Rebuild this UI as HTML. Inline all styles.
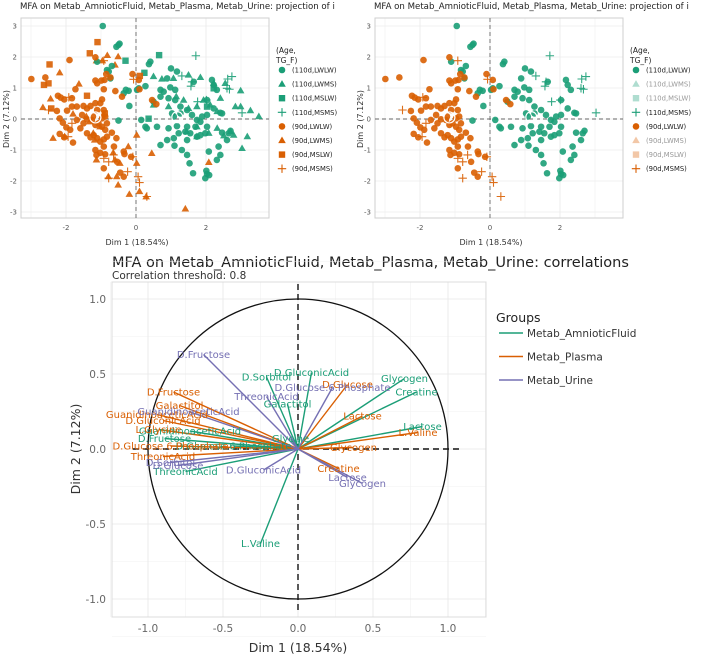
<!DOCTYPE html>
<html><head><meta charset="utf-8">
<style>
html,body{margin:0;padding:0;background:#fff;}
svg{display:block;font-family:"DejaVu Sans","Liberation Sans",sans-serif;}
</style></head>
<body>
<svg id="fig" width="708" height="657" viewBox="0 0 708 657" xmlns="http://www.w3.org/2000/svg">
</svg>
<script>
// ---------- Individuals data (Dim1, Dim2) ----------
const g_circ_x=[-0.95,-0.56,-0.5,-0.47,0.41,0.37,-0.29,-0.19,-0.5,0.03,0.08,0.27,0.15,0.27,0.31,0.6,0.7,0.89,1.1,1.31,1.46,1.53,1.63,2.01,2.03,1.98,2.09,2.08,2.36,2.41,2.31,2.7,2.65,2.46,2.41,2.22,2.03,1.89,1.74,1.6,1.46,1.27,1.12,0.93,0.79,0.7,0.98,1.12,1.0,1.17,0.89,0.7,0.5,1.84,2.03,1.98,1.84,1.55,1.41,1.46,1.7,1.74,1.46,1.22,1.08,0.93,1.17,2.17,2.22,2.31,1.65,1.08,1.03,1.27,2.03,2.46,2.6,-0.83,-0.69,-1.11,-0.73,-0.35,-0.21,-0.78];
const g_circ_y=[3.0,2.33,2.39,2.43,1.85,1.77,0.94,0.42,-0.05,0.94,0.99,1.06,-0.03,-0.25,-0.3,-0.25,-0.84,-0.68,-0.86,-1.0,-1.16,-1.43,-1.75,-1.67,-1.77,-1.91,-1.81,-1.05,-0.89,-1.16,-1.32,-0.38,-0.46,0.18,0.2,0.34,0.13,0.08,-0.03,0.13,0.29,0.4,0.61,0.67,0.88,0.94,1.02,0.94,1.63,1.53,1.31,0.72,0.56,-0.09,-0.25,-0.46,-0.52,-0.46,-0.41,-0.25,-0.25,-0.57,-0.68,-0.46,-0.62,-0.3,-0.23,1.26,1.1,0.94,1.2,0.08,0.18,0.18,0.61,-0.44,-0.68,1.58,1.71,1.85,1.31,0.83,0.91,1.53];
const g_plus_x=[1.71,1.31,1.6,1.57,2.01,1.76,2.6,2.67,2.62,2.74,3.03];
const g_plus_y=[2.04,1.39,1.2,1.06,0.61,0.56,0.99,0.96,1.29,1.37,0.2];
const g_tri_x=[0.5,0.74,1.07,1.5,1.84,2.22,2.55,2.99,2.84,3.27,3.51,3.18,3.03,2.79,2.7,2.51,2.32,2.12,1.93,1.74,1.5,1.36,1.15,0.93,1.74,1.45,1.74,2.08,2.32,2.41,2.99,0.5];
const g_tri_y=[1.37,1.29,1.31,1.42,1.34,1.15,1.15,0.91,0.4,0.27,0.08,-0.57,-0.95,-0.52,-0.41,-0.54,0.24,0.45,0.61,0.4,0.34,0.61,0.72,0.4,-0.25,-0.41,-0.57,-0.46,-0.3,0.67,0.4,0.45];
const g_sq_x=[0.66,-0.3,0.24,0.36,2.22,2.03];
const g_sq_y=[2.06,1.88,1.49,0.01,0.99,0.4];
const o_circ_x=[-2.99,-2.59,-1.9,-2.23,-2.15,-2.05,-1.83,-1.73,-1.83,-1.97,-2.26,-2.18,-2.09,-1.99,-2.18,-2.05,-1.8,-1.88,-1.69,-1.5,-1.4,-1.3,-1.16,-1.02,-0.97,-1.11,-0.92,-1.54,-1.69,-1.59,-1.5,-1.4,-1.26,-1.16,-1.07,-0.97,-0.88,-0.83,-1.4,-1.3,-1.21,-1.11,-1.02,-0.92,-0.83,-0.92,-1.16,-1.13,-1.02,-0.88,-0.92,-0.69,-0.56,-0.63,-0.54,-0.45,-0.35,-0.33,-0.35,-0.14,-0.4,-0.59,-0.92,-0.99,-0.9,-1.16,-1.11,-1.16,-0.85,-0.73,-0.1,0.08,0.1,0.46,0.58,-1.23,-0.97,-0.88];
const o_circ_y=[1.29,1.34,1.9,0.75,0.69,0.63,0.67,0.96,0.4,0.27,0.26,0.02,-0.12,-0.27,-0.48,-0.59,-0.76,-0.35,0.4,0.42,0.34,0.42,0.51,0.51,0.63,0.29,0.29,0.13,-0.03,-0.3,-0.14,-0.01,-0.03,-0.19,-0.14,-0.25,-0.35,-0.14,-0.46,-0.59,-0.52,-0.62,-0.73,-0.66,-0.57,-0.89,-1.0,-1.16,-1.09,-1.14,-1.59,-0.44,-0.62,-0.89,-1.38,-1.73,-1.86,-1.13,-1.05,-1.22,0.72,0.9,0.96,1.24,1.26,1.24,1.15,1.99,1.45,1.34,1.45,1.26,0.96,0.61,0.48,0.08,0.02,0.08];
const o_plus_x=[-2.5,-1.92,-1.94,-1.83,-0.92,-0.78,-0.64,-0.78,-0.24,0.06,0.1,0.31,-0.09,-0.07,-0.92];
const o_plus_y=[0.29,0.7,-0.57,-0.14,-1.27,-1.38,-1.16,-1.91,-1.7,-1.86,-2.05,-2.5,-1.22,1.28,1.88];
const o_tri_x=[-2.18,-2.44,-2.66,-2.37,-2.04,-1.63,-0.82,-0.51,-1.13,-0.96,-0.6,-0.94,-1.42,-1.8,-1.18,-1.13,-0.65,-0.6,-0.46,-0.79,-0.55,-0.51,-0.19,0.1,0.29,0.45,0.02,0.02,-0.22,1.41,2.08,-1.22,-1.03,-1.32];
const o_tri_y=[1.49,0.65,0.37,-0.62,-0.57,1.13,2.05,2.01,1.88,1.88,1.74,0.13,0.08,0.16,-0.68,-1.32,-1.09,-1.32,-1.43,-1.86,-1.86,-2.13,-2.43,-2.34,-2.51,-1.11,-0.52,-1.43,-0.89,-2.9,-1.4,-0.46,-0.25,-0.09];
const o_sq_x=[-1.1,-1.32,-2.47,-2.63,-2.5,-1.4,-2.42,0.11,-0.89];
const o_sq_y=[2.48,2.12,1.76,1.1,1.15,0.75,0.34,1.39,0.18];
const indTicks=[-2,0,2];
const indYTicks=[-3,-2,-1,0,1,2,3];
const legendLabels=["(110d,LWLW)","(110d,LWMS)","(110d,MSLW)","(110d,MSMS)","(90d,LWLW)","(90d,LWMS)","(90d,MSLW)","(90d,MSMS)"];

// ---------- Variables correlation data ----------
const varGroups=["Metab_AmnioticFluid","Metab_Plasma","Metab_Urine"];
const af_names=["D.Sorbitol","D.GluconicAcid","Glycogen","Creatine","Galactitol","Lactose","GuanidinoaceticAcid","D.Fructose","ThreonicAcid","Glycine","L.Valine","D.Glucose.6.Phosphate"];
const af_x=[-0.21,0.09,0.71,0.79,-0.07,0.83,-0.72,-0.89,-0.75,-0.05,-0.25,-0.43];
const af_y=[0.48,0.51,0.47,0.38,0.3,0.15,0.12,0.07,-0.15,0.07,-0.63,0.02];
const pl_names=["D.Fructose","Galactitol","GuanidinoaceticAcid","D.GluconicAcid","L.Glycine","D.Glucose.6.Phosphate","ThreonicAcid","D.Glucose","Lactose","L.Valine","Glycogen","Creatine"];
const pl_x=[-0.83,-0.79,-0.94,-0.9,-0.93,-0.85,-0.9,0.33,0.43,0.8,0.37,0.27];
const pl_y=[0.38,0.29,0.23,0.19,0.13,0.02,-0.05,0.43,0.22,0.11,0.01,-0.13];
const ur_names=["D.Fructose","D.Glucose.6.Phosphate","ThreonicAcid","GuanidinoaceticAcid","D.Sorbitol","D.Glucose","D.GluconicAcid","Lactose","Glycogen"];
const ur_x=[-0.63,0.23,-0.21,-0.73,-0.85,-0.8,-0.23,0.33,0.43];
const ur_y=[0.63,0.41,0.35,0.25,-0.09,-0.11,-0.14,-0.19,-0.23];
const corTicks=[-1.0,-0.5,0.0,0.5,1.0];

const NS="http://www.w3.org/2000/svg";
const svg=document.getElementById('fig');
const GREEN="#1b9e77",ORANGE="#d95f02",PURPLE="#7570b3";
function mk(tag,attrs,parent){const e=document.createElementNS(NS,tag);for(const k in attrs)e.setAttribute(k,attrs[k]);(parent||svg).appendChild(e);return e;}
function txt(s,attrs,parent){const e=mk('text',attrs,parent);e.textContent=s;return e;}

function marker(shape,cx,cy,col,parent,op){
  let e;
  if(shape==='c'){e=mk('circle',{cx:cx,cy:cy,r:3.3,fill:col,'fill-opacity':op},parent);}
  else if(shape==='t'){e=mk('polygon',{points:`${cx},${cy-4} ${cx-3.8},${cy+2.6} ${cx+3.8},${cy+2.6}`,fill:col,'fill-opacity':op},parent);}
  else if(shape==='s'){e=mk('rect',{x:cx-3.2,y:cy-3.2,width:6.4,height:6.4,fill:col,'fill-opacity':op},parent);}
  else {e=mk('path',{d:`M${cx-4.2},${cy}H${cx+4.2}M${cx},${cy-4.2}V${cy+4.2}`,stroke:col,'stroke-width':1.1,fill:'none','stroke-opacity':op},parent);}
  return e;
}

function indPanel(ox,full,name){
  const g=mk('g',{},svg);
  
  
  const L=ox+21,R=ox+269,T=18,B=218;
  const x0=ox+136,kx=35,y0=119,ky=31;
  const sx=v=>x0+v*kx, sy=v=>y0-v*ky;
  const t=txt("MFA on Metab_AmnioticFluid, Metab_Plasma, Metab_Urine: projection of i",{x:ox+20,y:9,'font-size':8.6,fill:'#222'},g);
  
  
  for(let v=-3;v<=3.5;v+=1){mk('line',{x1:sx(v),x2:sx(v),y1:T,y2:B,stroke:'#f0f0f0','stroke-width':0.6},g);}
  indYTicks.forEach(v=>{mk('line',{x1:L,x2:R,y1:sy(v),y2:sy(v),stroke:'#ebebeb','stroke-width':0.7},g);});
  indTicks.forEach(v=>{mk('line',{x1:sx(v),x2:sx(v),y1:T,y2:B,stroke:'#ebebeb','stroke-width':0.7},g);});
  mk('rect',{x:L,y:T,width:R-L,height:B-T,fill:'none',stroke:'#cfcfcf','stroke-width':1},g);
  mk('line',{x1:L,x2:R,y1:sy(0),y2:sy(0),stroke:'#666','stroke-dasharray':'4,3','stroke-width':0.9},g);
  mk('line',{x1:sx(0),x2:sx(0),y1:T,y2:B,stroke:'#666','stroke-dasharray':'4,3','stroke-width':0.9},g);
  indTicks.forEach(v=>{const e=txt(String(v),{x:sx(v),y:230,'font-size':7,fill:'#555','text-anchor':'middle'},g);});
  indYTicks.forEach(v=>{const e=txt(String(v),{x:L-4,y:sy(v)+2.5,'font-size':7,fill:'#555','text-anchor':'end'},g);});
  const xl=txt("Dim 1 (18.54%)",{x:x0+1,y:245,'font-size':8,fill:'#333','text-anchor':'middle'},g);
  
  const yl=txt("Dim 2 (7.12%)",{x:0,y:0,'font-size':8,fill:'#333','text-anchor':'middle',transform:`translate(${ox+9},${y0}) rotate(-90)`},g);
  
  const op=0.9;
  const draw=(xs,ys,shape,col)=>{xs.forEach((v,i)=>{const m=marker(shape,sx(v),sy(ys[i]),col,g,op);});};
  if(full){draw(g_tri_x,g_tri_y,'t',GREEN);draw(g_sq_x,g_sq_y,'s',GREEN);draw(o_tri_x,o_tri_y,'t',ORANGE);draw(o_sq_x,o_sq_y,'s',ORANGE);}
  draw(g_circ_x,g_circ_y,'c',GREEN);draw(o_circ_x,o_circ_y,'c',ORANGE);
  draw(g_plus_x,g_plus_y,'p',GREEN);draw(o_plus_x,o_plus_y,'p',ORANGE);
  mk('circle',{cx:sx(1.18),cy:sy(0.06),r:5.5,fill:'none',stroke:'#fff','stroke-width':1.2},g);
  mk('circle',{cx:sx(-1.16),cy:sy(0.05),r:5.5,fill:'none',stroke:'#fff','stroke-width':1.2},g);
  const lg=mk('g',{},g);
  
  const lx=ox+276;
  txt("(Age,",{x:lx,y:53,'font-size':7.5,fill:'#222'},lg);
  txt("TG_F)",{x:lx,y:63,'font-size':7.5,fill:'#222'},lg);
  const shapes=['c','t','s','p','c','t','s','p'];
  legendLabels.forEach((s,i)=>{
    const y=70+i*14.1;const col=i<4?GREEN:ORANGE;
    const faded=!full&&(shapes[i]==='t'||shapes[i]==='s');
    const e=mk('g',{},lg);
    
    marker(shapes[i],lx+6,y,col,e,faded?0.35:1);
    txt(s,{x:lx+16,y:y+2.5,'font-size':6.8,fill:faded?'#999':'#222'},e);
  });
}
indPanel(0,true,'individuals-panel-all');
indPanel(354,false,'individuals-panel-selected');

// ---------- Correlation circle ----------
(function(){
  const g=mk('g',{},svg);
  
  const L=112,R=486,T=282,B=617,x0=298,y0=449,k=150;
  const sx=v=>x0+v*k, sy=v=>y0-v*k;
  const t=txt("MFA on Metab_AmnioticFluid, Metab_Plasma, Metab_Urine: correlations",{x:112,y:267,'font-size':14.5,fill:'#222'},g);
  
  const st=txt("Correlation threshold: 0.8",{x:112,y:279,'font-size':10.5,fill:'#333'},g);
  
  for(let v=-1.25;v<=1.25;v+=0.25){
    mk('line',{x1:sx(v),x2:sx(v),y1:T,y2:B,stroke:'#f2f2f2','stroke-width':0.6},g);
    mk('line',{x1:L,x2:R,y1:sy(v),y2:sy(v),stroke:'#f2f2f2','stroke-width':0.6},g);
  }
  corTicks.forEach(v=>{
    mk('line',{x1:sx(v),x2:sx(v),y1:T,y2:B,stroke:'#e8e8e8','stroke-width':0.8},g);
    mk('line',{x1:L,x2:R,y1:sy(v),y2:sy(v),stroke:'#e8e8e8','stroke-width':0.8},g);
    const lab=v.toFixed(1);
    const a=txt(lab,{x:sx(v),y:632,'font-size':10.5,fill:'#666','text-anchor':'middle'},g);
    
    const b=txt(lab,{x:L-6,y:sy(v)+4,'font-size':10.5,fill:'#666','text-anchor':'end'},g);
    
  });
  mk('rect',{x:L,y:T,width:R-L,height:B-T,fill:'none',stroke:'#dcdcdc','stroke-width':1},g);
  const xl=txt("Dim 1 (18.54%)",{x:x0,y:652,'font-size':12.5,fill:'#333','text-anchor':'middle'},g);
  
  const yl=txt("Dim 2 (7.12%)",{x:0,y:0,'font-size':12.5,fill:'#333','text-anchor':'middle',transform:`translate(80,${y0}) rotate(-90)`},g);
  
  const c=mk('circle',{cx:x0,cy:y0,r:k,fill:'none',stroke:'#111','stroke-width':1.3},g);
  
  mk('line',{x1:sx(-1.1),x2:sx(1.1),y1:y0,y2:y0,stroke:'#111','stroke-width':1.4,'stroke-dasharray':'6,4'},g);
  mk('line',{x1:x0,x2:x0,y1:sy(1.1),y2:sy(-1.1),stroke:'#111','stroke-width':1.4,'stroke-dasharray':'6,4'},g);
  const sets=[[af_names,af_x,af_y,GREEN],[pl_names,pl_x,pl_y,ORANGE],[ur_names,ur_x,ur_y,PURPLE]];
  sets.forEach(([n,xs,ys,col])=>{
    xs.forEach((v,i)=>{
      const ln=mk('line',{x1:x0,y1:y0,x2:sx(v),y2:sy(ys[i]),stroke:col,'stroke-width':1.4},g);
      
    });
  });
  sets.forEach(([n,xs,ys,col])=>{
    xs.forEach((v,i)=>{
      const tt=txt(n[i],{x:sx(v),y:sy(ys[i])+3.5,'font-size':10,fill:col,'text-anchor':'middle'},g);
      
    });
  });
  const lg=mk('g',{},g);
  
  txt("Groups",{x:496,y:322,'font-size':12.5,fill:'#222'},lg);
  const cols=[GREEN,ORANGE,PURPLE];
  varGroups.forEach((s,i)=>{
    const y=333+i*23.5;
    const e=mk('g',{},lg);
    
    mk('line',{x1:499,x2:523,y1:y,y2:y,stroke:cols[i],'stroke-width':1.6},e);
    txt(s,{x:527,y:y+4,'font-size':10.5,fill:'#333'},e);
  });
})();
</script>
</body></html>
